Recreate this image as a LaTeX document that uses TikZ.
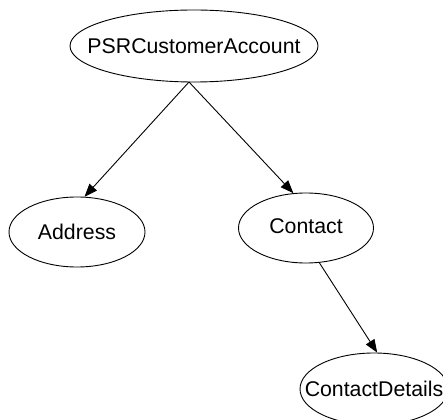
\documentclass[tikz,border=0pt]{standalone}
\usepackage{fontspec}
\setmainfont{Liberation Sans}
\usetikzlibrary{shapes.geometric,arrows.meta}
\begin{document}
\begin{tikzpicture}[x=1pt,y=-1pt,
  ent/.style={draw,ellipse,line width=0.9pt,inner sep=0pt,
    label={[font=\fontsize{21.3}{25}\selectfont]center:#1}},
  link/.style={line width=0.9pt,-{Triangle[length=13pt,width=10pt]}}]
\useasboundingbox (0,0) rectangle (443,419);
\clip (0,0) rectangle (443,419);
\node[ent=PSRCustomerAccount,minimum width=248pt,minimum height=72pt] (psr) at (194,46) {};
\node[ent=Address,minimum width=136pt,minimum height=70pt] (addr) at (77,232) {};
\node[ent={\raisebox{3pt}{Contact}},minimum width=135pt,minimum height=70pt] (cont) at (306,228) {};
\node[ent=ContactDetails,minimum width=148pt,minimum height=72pt] (det) at (374,389) {};
\coordinate (apex) at (189,82);
\draw[link] (apex) -- (addr.78);
\draw[link] (apex) -- (cont.110);
\draw[link] (cont.291) -- (det.85);
\end{tikzpicture}
\end{document}
